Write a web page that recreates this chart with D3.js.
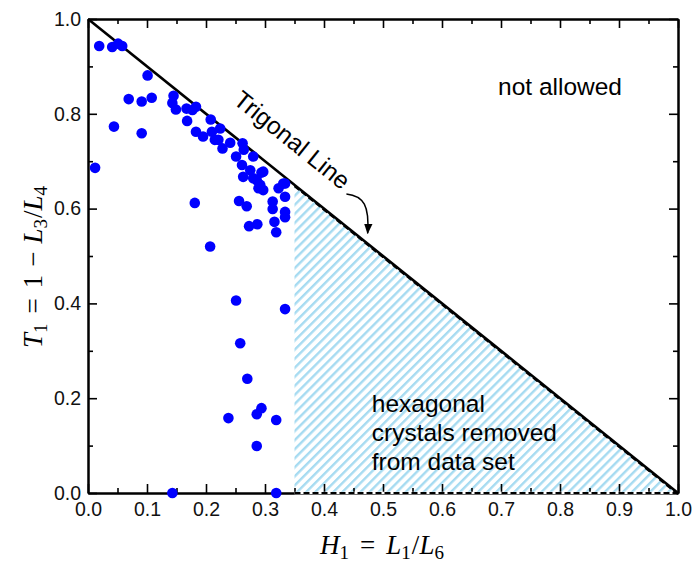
<!DOCTYPE html>
<html><head><meta charset="utf-8">
<script src="https://cdn.jsdelivr.net/npm/d3@7"></script>
<style>body{margin:0;background:#fff}svg{display:block}</style>
</head><body>
<script>
// ---- data ----
const hValues = [0.019,0.041,0.051,0.058,0.101,0.069,0.091,0.108,0.044,0.091,0.012,
  0.145,0.143,0.149,0.167,0.177,0.183,0.168,0.208,0.183,0.195,0.210,0.224,0.215,0.228,0.241,0.262,0.251,0.264,0.280,0.261,0.275,0.294,0.263,0.280,0.292,0.331,
  0.221,0.297,0.286,0.289,0.297,0.323,0.334,0.334,
  0.181,0.256,0.269,0.313,0.313,0.334,0.334,0.273,0.287,0.316,0.319,0.207,
  0.251,0.334,0.258,0.270,0.294,0.286,0.238,0.319,0.286,0.143,0.319];
const tValues = [0.943,0.941,0.948,0.943,0.881,0.831,0.826,0.834,0.773,0.759,0.686,
  0.838,0.823,0.809,0.811,0.808,0.815,0.785,0.788,0.762,0.752,0.762,0.769,0.745,0.727,0.739,0.738,0.710,0.724,0.710,0.692,0.681,0.676,0.667,0.664,0.650,0.653,
  0.745,0.678,0.660,0.643,0.639,0.643,0.653,0.625,
  0.612,0.616,0.605,0.615,0.599,0.593,0.582,0.563,0.567,0.572,0.550,0.520,
  0.406,0.388,0.316,0.241,0.179,0.166,0.158,0.154,0.099,0.0,0.0];
const xTicksMajor = [0,0.1,0.2,0.3,0.4,0.5,0.6,0.7,0.8,0.9,1.0];
const xTicksMinor = [0.05,0.15,0.25,0.35,0.45,0.55,0.65,0.75,0.85,0.95];
const yTicksMajor = [0,0.2,0.4,0.6,0.8,1.0];
const yTicksMinor = [0.1,0.3,0.5,0.7,0.9];
const trigonalLine = [[0,1],[1,0]];
const hexRegion = [[0.35,0],[0.35,0.65],[1,0]];
const hexLabelLines = ["hexagonal","crystals removed","from data set"];

// ---- chart ----
const W=695,H=566;
const svg=d3.select("body").append("svg").attr("width",W).attr("height",H);
const x=d3.scaleLinear().domain([0,1]).range([88,678]);
const y=d3.scaleLinear().domain([0,1]).range([493,19]);

const defs=svg.append("defs");
const pat=defs.append("pattern").attr("id","hatch").attr("patternUnits","userSpaceOnUse")
  .attr("width",6.4).attr("height",6.4).attr("patternTransform","rotate(45)");
pat.append("rect").attr("x",0).attr("y",0).attr("width",2.4).attr("height",6.4).attr("fill","#a6dbf1");
defs.append("marker").attr("id","ah").attr("viewBox","0 0 10 10").attr("refX",9).attr("refY",5)
  .attr("markerWidth",7).attr("markerHeight",9).attr("orient","auto")
  .append("path").attr("d","M0,1 L10,5 L0,9 Z").attr("fill","#000");

// hatch region
const lineGen=d3.line().x(d=>x(d[0])).y(d=>y(d[1]));
svg.append("path").attr("d",lineGen(hexRegion)+"Z").attr("fill","url(#hatch)");

// axes frame
const font="'Liberation Sans', Arial, sans-serif";
function addAxis(axisFn, scale, ticks, size, pad, labels, transform){
  const g=svg.append("g").attr("transform",transform)
    .call(axisFn(scale).tickValues(ticks).tickSizeInner(-size).tickSizeOuter(0).tickPadding(pad)
      .tickFormat(labels?d3.format(".1f"):()=>""));
  g.select(".domain").attr("stroke","#000").attr("stroke-width",2);
  g.selectAll(".tick line").attr("stroke","#000").attr("stroke-width",1.6);
  g.selectAll("text").attr("font-family",font).attr("font-size",19.5).attr("fill","#111");
  return g;
}
addAxis(d3.axisBottom,x,xTicksMajor,9,9,true,`translate(0,${y(0)})`);
addAxis(d3.axisBottom,x,xTicksMinor,5,9,false,`translate(0,${y(0)})`);
addAxis(d3.axisTop,x,xTicksMajor,9,9,false,`translate(0,${y(1)})`);
addAxis(d3.axisTop,x,xTicksMinor,5,9,false,`translate(0,${y(1)})`);
addAxis(d3.axisLeft,y,yTicksMajor,9,7,true,`translate(${x(0)},0)`);
addAxis(d3.axisLeft,y,yTicksMinor,5,7,false,`translate(${x(0)},0)`);
addAxis(d3.axisRight,y,yTicksMajor,9,7,false,`translate(${x(1)},0)`);
addAxis(d3.axisRight,y,yTicksMinor,5,7,false,`translate(${x(1)},0)`);

// dashed border of hatch region (bottom and diagonal)
svg.append("line").attr("x1",x(0.35)).attr("x2",x(1)).attr("y1",y(0)).attr("y2",y(0))
  .attr("stroke","#fff").attr("stroke-width",2.5);
svg.append("line").attr("x1",x(0.35)).attr("x2",x(1)).attr("y1",y(0)).attr("y2",y(0))
  .attr("stroke","#000").attr("stroke-width",2).attr("stroke-dasharray","6,3");
svg.append("path").attr("d",lineGen([hexRegion[1],hexRegion[2]])).attr("fill","none")
  .attr("stroke","#000").attr("stroke-width",2).attr("stroke-dasharray","6,3")
  .attr("transform","translate(0,1.2)");

// trigonal line
svg.append("path").attr("d",lineGen(trigonalLine)).attr("fill","none").attr("stroke","#000").attr("stroke-width",2.6);

// points
const pts=hValues.map((h,i)=>[h,tValues[i]]);
svg.append("g").selectAll("circle").data(pts).join("circle")
  .attr("cx",d=>x(d[0])).attr("cy",d=>y(d[1])).attr("r",5.3).attr("fill","#0000ff");

// annotations
const ang=Math.atan2(y(0)-y(1),x(1)-x(0))*180/Math.PI;
svg.append("text").attr("transform",`translate(${x(0.337)},${y(0.731)}) rotate(${ang})`)
  .attr("text-anchor","middle").attr("font-family",font).attr("font-size",24.5).attr("fill","#000")
  .text("Trigonal Line");
svg.append("path")
  .attr("d",`M${x(0.438)},${y(0.631)} C${x(0.468)},${y(0.627)} ${x(0.477)},${y(0.605)} ${x(0.474)},${y(0.548)}`)
  .attr("fill","none").attr("stroke","#000").attr("stroke-width",1.5).attr("marker-end","url(#ah)");
svg.append("text").attr("x",x(0.695)).attr("y",y(0.839)).attr("font-family",font).attr("font-size",24.5)
  .attr("fill","#000").text("not allowed");
svg.append("text").attr("font-family",font).attr("font-size",24.5).attr("fill","#000")
  .selectAll("tspan").data(hexLabelLines).join("tspan")
  .attr("x",x(0.481)).attr("y",(d,i)=>y(0.17)+i*29).text(d=>d);

// axis titles
const mfont="'Liberation Serif','Times New Roman',serif";
const xt=svg.append("text").attr("x",382).attr("y",554).attr("text-anchor","middle")
  .attr("font-family",mfont).attr("font-size",27).attr("fill","#000");
function mathParts(t, parts){
  parts.forEach(p=>{
    const s=t.append("tspan").text(p.t);
    if(p.i) s.attr("font-style","italic");
    if(p.sub){ s.attr("font-size",19).attr("dy",5); }
    if(p.up){ s.attr("dy",-5); }
    if(p.dx) s.attr("dx",p.dx);
  });
}
mathParts(xt,[{t:"H",i:1},{t:"1",sub:1},{t:"=",up:1,dx:11},{t:"L",i:1,dx:11},{t:"1",sub:1},{t:"/",up:1,dx:1},{t:"L",i:1},{t:"6",sub:1}]);
const yt=svg.append("text").attr("transform","translate(42,267) rotate(-90)").attr("text-anchor","middle")
  .attr("font-family",mfont).attr("font-size",27).attr("fill","#000");
mathParts(yt,[{t:"T",i:1},{t:"1",sub:1},{t:"=",up:1,dx:10},{t:"1",dx:10},{t:"−",dx:8},{t:"L",i:1,dx:8},{t:"3",sub:1},{t:"/",up:1,dx:1},{t:"L",i:1},{t:"4",sub:1}]);
</script>
</body></html>
